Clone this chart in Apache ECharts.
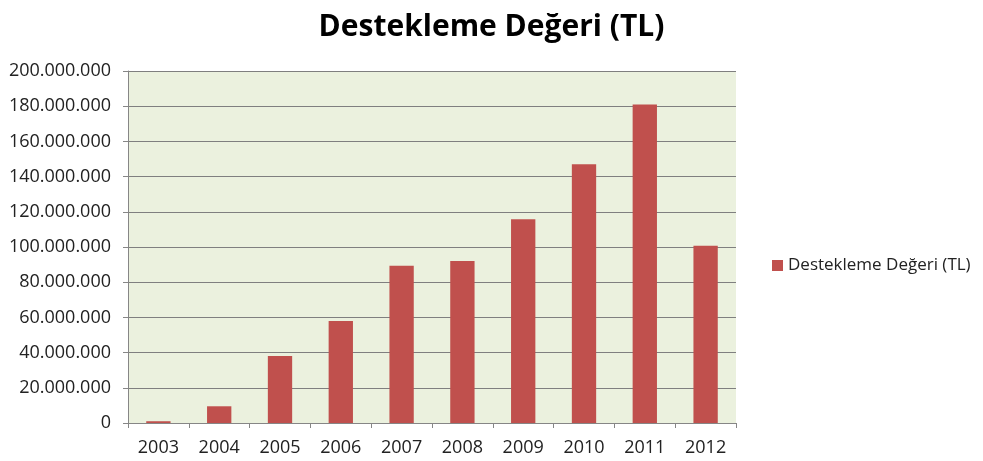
<!DOCTYPE html>
<html>
<head>
<meta charset="utf-8">
<script src="https://cdn.jsdelivr.net/npm/echarts@6/dist/echarts.min.js"></script>
<style>
html, body { margin: 0; padding: 0; background: #fff; }
#chart { width: 983px; height: 461px; }
</style>
</head>
<body>
<div id="chart"></div>
<script>
// data
const years = ['2003', '2004', '2005', '2006', '2007', '2008', '2009', '2010', '2011', '2012']
const values = [1000000, 9500000, 38000000, 58000000, 89300000, 92100000, 115800000, 147000000, 181000000, 100700000]
const seriesName = 'Destekleme Değeri (TL)'

function dotted(v) {
  return String(v).replace(/\B(?=(\d{3})+(?!\d))/g, '.')
}

let chart = echarts.init(document.getElementById('chart'))
let chartOpt = {
  animation: false,
  title: {
    text: seriesName,
    left: 'center',
    top: 7,
    textStyle: {
      fontFamily: 'Open Sans',
      fontWeight: 'bold',
      fontSize: 30,
      color: '#000'
    }
  },
  legend: {
    data: [seriesName],
    left: 767,
    top: 252,
    icon: 'rect',
    itemWidth: 11,
    itemHeight: 11,
    itemGap: 6,
    textStyle: {
      fontFamily: 'Open Sans',
      fontSize: 17,
      color: '#222'
    }
  },
  grid: {
    left: 128,
    right: 247,
    top: 71,
    bottom: 38,
    show: true,
    backgroundColor: '#ebf1de',
    borderWidth: 0
  },
  xAxis: {
    type: 'category',
    data: years,
    axisLine: { lineStyle: { color: '#868686', width: 1 } },
    axisTick: { show: true, length: 5, lineStyle: { color: '#868686' } },
    axisLabel: {
      fontFamily: 'Open Sans',
      fontSize: 18,
      color: '#222',
      margin: 16
    }
  },
  yAxis: {
    type: 'value',
    min: 0,
    max: 200000000,
    interval: 20000000,
    axisLine: { show: true, lineStyle: { color: '#868686', width: 1 } },
    axisTick: { show: true, length: 5, lineStyle: { color: '#868686' } },
    splitLine: { lineStyle: { color: '#7f7f7f', width: 1 } },
    axisLabel: {
      fontFamily: 'Open Sans',
      fontSize: 18,
      color: '#222',
      margin: 17,
      formatter: dotted
    }
  },
  series: [{
    name: seriesName,
    type: 'bar',
    data: values,
    barWidth: '40%',
    itemStyle: { color: '#c0504d' }
  }]
}
chart.setOption(chartOpt)
</script>
</body>
</html>
